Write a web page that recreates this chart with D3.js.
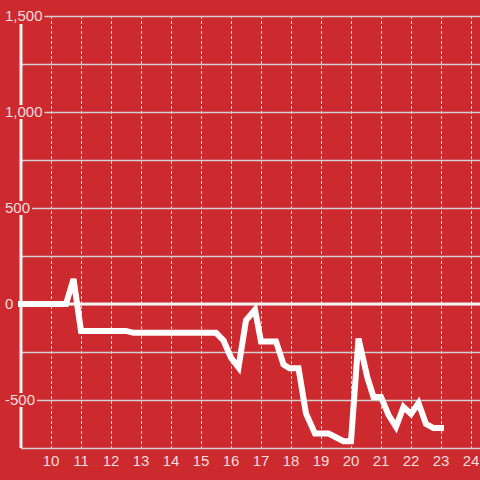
<!DOCTYPE html>
<html>
<head>
<meta charset="utf-8">
<script src="https://cdn.jsdelivr.net/npm/d3@7"></script>
<style>
  body { margin: 0; background: #cc2a2e; }
  svg { display: block; font-family: "Liberation Sans", Arial, sans-serif; }
  .label { fill: #f3dede; font-size: 15px; }
</style>
</head>
<body>
<div id="chart"></div>
<script>
var width = 480,
    height = 480,
    margin = {top: 16, right: 0, bottom: 32, left: 21};

// data (hours, value)
var hours = [9, 10.5, 10.75, 11, 12.5, 12.75, 15.5, 15.75, 16, 16.25, 16.5, 16.8, 17, 17.5, 17.75,
             17.95, 18.25, 18.5, 18.8, 19.25, 19.75, 20, 20.25, 20.55, 20.75, 21, 21.25, 21.5,
             21.75, 22, 22.25, 22.5, 22.75, 23];
var values = [0, 0, 130, -140, -140, -150, -150, -190, -280, -330, -85, -30, -195, -195, -315,
              -335, -335, -570, -675, -675, -715, -715, -180, -385, -484, -484, -578, -640,
              -536, -573, -516, -625, -646, -646];
var xTicks = [10, 11, 12, 13, 14, 15, 16, 17, 18, 19, 20, 21, 22, 23, 24];
var yGrid = [-750, -500, -250, 0, 250, 500, 750, 1000, 1250, 1500];
var yLabels = [-500, 0, 500, 1000, 1500];

var svg = d3.select('div#chart').append('svg')
    .attr('width', width)
    .attr('height', height);

var x = d3.scaleLinear().domain([9, 24.3]).range([margin.left, width - margin.right]);
var y = d3.scaleLinear().domain([-750, 1500]).range([height - margin.bottom, margin.top]);

// vertical dotted grid
svg.append('g').selectAll('line').data(xTicks).enter().append('line')
    .attr('x1', function (d) { return Math.round(x(d)) + 0.5; })
    .attr('x2', function (d) { return Math.round(x(d)) + 0.5; })
    .attr('y1', y(1500))
    .attr('y2', y(-750))
    .attr('stroke', '#e6e6e6')
    .attr('stroke-dasharray', '3,2');

// horizontal grid
svg.append('g').selectAll('line').data(yGrid).enter().append('line')
    .attr('x1', margin.left)
    .attr('x2', width)
    .attr('y1', function (d) { return Math.round(y(d)) + 0.5; })
    .attr('y2', function (d) { return Math.round(y(d)) + 0.5; })
    .attr('stroke', '#d0d0d0')
    .attr('stroke-width', 1.5);

// zero line
svg.append('line')
    .attr('x1', margin.left).attr('x2', width)
    .attr('y1', y(0)).attr('y2', y(0))
    .attr('stroke', '#f2f2f2')
    .attr('stroke-width', 3);

// y axis line
svg.append('line')
    .attr('x1', margin.left).attr('x2', margin.left)
    .attr('y1', y(1500) + 8).attr('y2', y(-750))
    .attr('stroke', '#f2f2f2')
    .attr('stroke-width', 3);

// y labels with background boxes that hide the axis under them
var fmt = d3.format(',');
var yl = svg.append('g').selectAll('g').data(yLabels).enter().append('g')
    .attr('transform', function (d) { return 'translate(0,' + y(d) + ')'; });
yl.append('text')
    .attr('class', 'label')
    .attr('x', 5)
    .attr('dy', '0.36em')
    .text(function (d) { return fmt(d).replace('−', '-'); })
    .each(function () {
        var b = this.getBBox();
        d3.select(this.parentNode).insert('rect', 'text')
            .attr('x', b.x - 1).attr('y', -7)
            .attr('width', b.width + 3).attr('height', 14)
            .attr('fill', '#cc2a2e');
    });

// x labels
svg.append('g').selectAll('text').data(xTicks).enter().append('text')
    .attr('class', 'label')
    .attr('x', function (d) { return x(d); })
    .attr('y', 466)
    .attr('text-anchor', 'middle')
    .text(function (d) { return d; });

// data line
var line = d3.line()
    .x(function (d, i) { return x(hours[i]); })
    .y(function (d) { return y(d); });

svg.append('path')
    .datum(values)
    .attr('d', line)
    .attr('fill', 'none')
    .attr('stroke', '#ffffff')
    .attr('stroke-width', 6)
    .attr('stroke-linecap', 'square')
    .attr('stroke-linejoin', 'miter');
</script>
</body>
</html>
